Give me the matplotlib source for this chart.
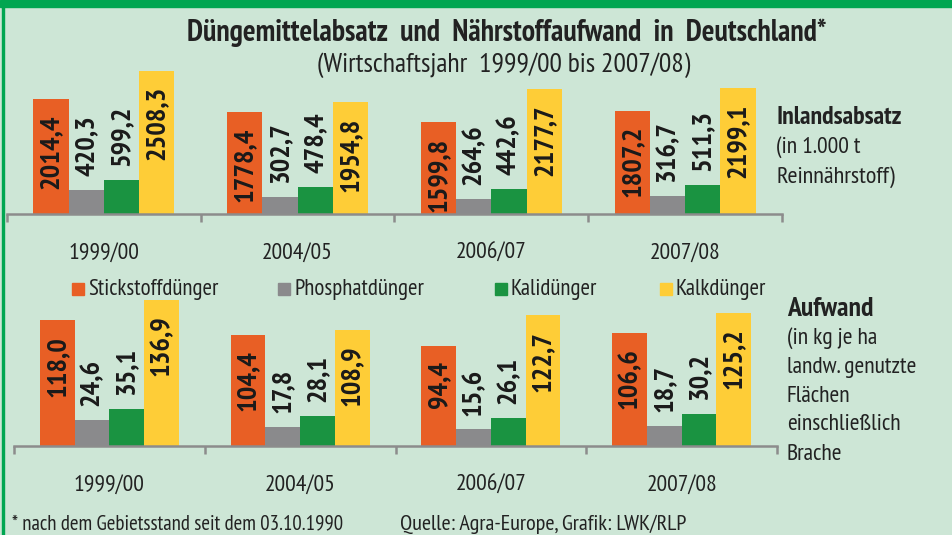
import matplotlib.pyplot as plt
import matplotlib as mpl
from matplotlib import font_manager
from matplotlib.patches import Rectangle
import numpy as np

# schmale Schrift suchen (wie Arial Narrow), mit fettem Schnitt
gewichte = {}
for f in font_manager.fontManager.ttflist:
    w = f.weight if isinstance(f.weight, int) else {'normal': 400, 'regular': 400, 'bold': 700}.get(str(f.weight), 400)
    gewichte.setdefault(f.name, set()).add(w)
kandidaten = ['Liberation Sans Narrow', 'Arial Narrow', 'Archivo Narrow', 'PT Sans Narrow',
              'Roboto Condensed', 'IBM Plex Sans Condensed', 'Open Sans Condensed']
schrift = [k for k in kandidaten if k in gewichte and 700 in gewichte[k] and 400 in gewichte[k]][:1]
mpl.rcParams['font.family'] = schrift + ['DejaVu Sans']

jahre = ['1999/00', '2004/05', '2006/07', '2007/08']
sorten = ['Stickstoffdünger', 'Phosphatdünger', 'Kalidünger', 'Kalkdünger']
farben = ['#e85f25', '#8a8a8c', '#1a9341', '#fecd37']

# Inlandsabsatz (1.000 t Reinnährstoff)
absatz_n = [2014.4, 1778.4, 1599.8, 1807.2]
absatz_p = [420.3, 302.7, 264.6, 316.7]
absatz_k = [599.2, 478.4, 442.6, 511.3]
absatz_kalk = [2508.3, 1954.8, 2177.7, 2199.1]

# Aufwand (kg je ha)
aufwand_n = [118.0, 104.4, 94.4, 106.6]
aufwand_p = [24.6, 17.8, 15.6, 18.7]
aufwand_k = [35.1, 28.1, 26.1, 30.2]
aufwand_kalk = [136.9, 108.9, 122.7, 125.2]

bg = '#cde6d6'
W, H = 953, 535
fig = plt.figure(figsize=(W / 100, H / 100), dpi=100, facecolor=bg)

# gruener Rahmen oben und links
fig.patches.append(Rectangle((0, 1 - 7 / H), 1, 7 / H, transform=fig.transFigure, color='#00a651', zorder=0))
fig.patches.append(Rectangle((2 / W, 0), 2.5 / W, 1, transform=fig.transFigure, color='#00a651', zorder=0))


def px_axes(x0, x1, ybase, hpx):
    return fig.add_axes([x0 / W, (H - ybase) / H, (x1 - x0) / W, hpx / H])


def zeichne(ax, reihen, ymax):
    ax.set_facecolor('none')
    bw = 0.182
    x = np.arange(len(jahre))
    for i, (werte, f) in enumerate(zip(reihen, farben)):
        xs = x + (i - 1.5) * bw
        ax.bar(xs, werte, width=bw, color=f, zorder=2)
        for xx, v in zip(xs, werte):
            txt = f'{v:.1f}'.replace('.', ',')
            if i in (0, 3):
                ax.annotate(txt, (xx, v), xytext=(0, -11), textcoords='offset points',
                            rotation=90, ha='center', va='top', fontsize=20.5, fontweight='bold', color='#1a1a1a')
            else:
                ax.annotate(txt, (xx, v), xytext=(0, 10), textcoords='offset points',
                            rotation=90, ha='center', va='bottom', fontsize=20.5, fontweight='bold', color='#1a1a1a')
    ax.set_xlim(-0.5, 3.5)
    ax.set_ylim(0, ymax)
    for s in ['top', 'left', 'right']:
        ax.spines[s].set_visible(False)
    ax.spines['bottom'].set_color('#8c8c8c')
    ax.spines['bottom'].set_linewidth(1.8)
    ax.set_yticks([])
    ax.set_xticks(np.arange(-0.5, 4, 1))
    ax.set_xticklabels([])
    ax.tick_params(axis='x', length=6, width=1.8, color='#8c8c8c', direction='out')
    for xx, j in zip(x, jahre):
        ax.annotate(j, (xx, 0), xycoords=('data', 'axes fraction'), xytext=(0, -28),
                    textcoords='offset points', ha='center', va='center', fontsize=17, color='#222222')


ax1 = px_axes(7, 782, 214, 150)
zeichne(ax1, [absatz_n, absatz_p, absatz_k, absatz_kalk], 150 / 0.0572)
ax2 = px_axes(14, 777, 446, 150)
zeichne(ax2, [aufwand_n, aufwand_p, aufwand_k, aufwand_kalk], 150 / 1.064)


def ft(x, y, s, **kw):
    fig.text(x / W, 1 - y / H, s, va='center', color='#222222', **kw)


ft(507, 33, 'Düngemittelabsatz  und  Nährstoffaufwand  in  Deutschland*', ha='center', fontsize=21.5, fontweight='bold')
ft(504, 65, '(Wirtschaftsjahr  1999/00 bis 2007/08)', ha='center', fontsize=20)

ft(776, 117, 'Inlandsabsatz', fontsize=18.5, fontweight='bold')
ft(776, 147, '(in 1.000 t', fontsize=17)
ft(776, 177, 'Reinnährstoff)', fontsize=17.5)

ft(787, 309, 'Aufwand', fontsize=20, fontweight='bold')
for yy, s in zip([338, 368, 396, 425, 455],
                 ['(in kg je ha', 'landw. genutzte', 'Flächen', 'einschließlich', 'Brache']):
    ft(787, yy, s, fontsize=17)

# Legende
for xq, s, f in zip([72, 278, 495, 660], sorten, farben):
    fig.patches.append(Rectangle((xq / W, 1 - 295 / H), 12 / W, 12 / H, transform=fig.transFigure, color=f))
    ft(xq + 16, 290, s, fontsize=16.5)

ft(12, 524, '* nach dem Gebietsstand seit dem 03.10.1990', fontsize=15)
ft(400, 524, 'Quelle: Agra-Europe, Grafik: LWK/RLP', fontsize=16)

fig.savefig('out.png', dpi=100, facecolor=bg)
